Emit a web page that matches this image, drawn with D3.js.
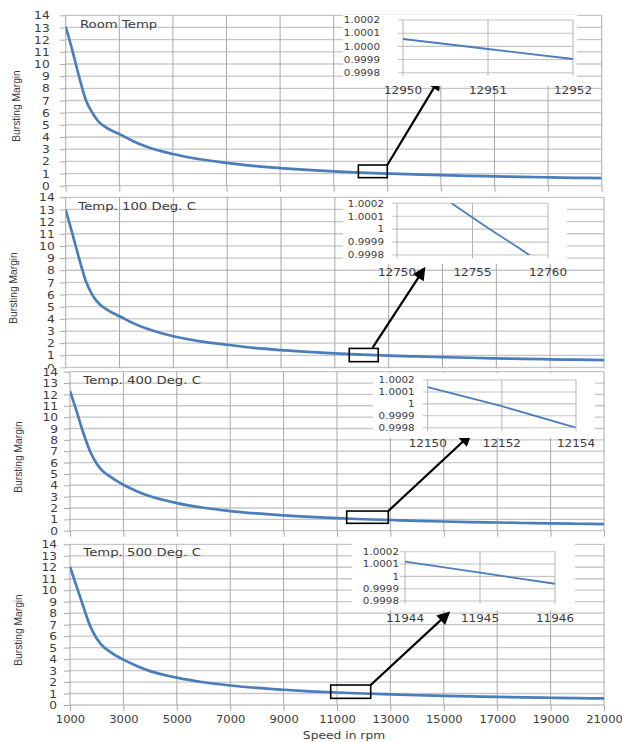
<!DOCTYPE html>
<html>
<head>
<meta charset="utf-8">
<script src="https://cdn.jsdelivr.net/npm/d3@7"></script>
<style>
  body { margin: 0; background: #fff; }
  svg { display: block; font-family: "DejaVu Sans", sans-serif; }
</style>
</head>
<body>
<svg width="622" height="742"></svg>
<script>
// speed in rpm
const speeds = [1000, 1250, 1500, 1750, 2000, 2250, 2500, 2750, 3000, 3500, 4000, 5000, 6000, 7000,
                8000, 9000, 10000, 11000, 12000, 13000, 14000, 15000, 16000, 17000, 18000, 19000, 20000, 21000];

// bursting margin, one list per temperature
const roomTemp = [13.07, 11.1, 8.95, 7.05, 5.97, 5.2, 4.8, 4.5, 4.25, 3.68, 3.22, 2.6, 2.17, 1.88,
                  1.63, 1.45, 1.3, 1.18, 1.08, 1.0, 0.93, 0.87, 0.81, 0.77, 0.72, 0.69, 0.65, 0.62];
const temp100 = [12.97, 11.0, 8.96, 7.09, 5.93, 5.22, 4.8, 4.48, 4.22, 3.65, 3.2, 2.57, 2.15, 1.87,
                 1.61, 1.43, 1.28, 1.16, 1.06, 0.98, 0.91, 0.85, 0.8, 0.75, 0.71, 0.67, 0.64, 0.61];
const temp400 = [12.3, 10.5, 8.6, 7.0, 5.9, 5.2, 4.78, 4.38, 4.05, 3.48, 3.03, 2.43, 2.02, 1.73,
                 1.52, 1.35, 1.22, 1.1, 1.01, 0.94, 0.87, 0.81, 0.76, 0.72, 0.68, 0.64, 0.61, 0.58];
const temp500 = [12.05, 10.3, 8.57, 6.9, 5.8, 5.08, 4.65, 4.25, 3.95, 3.4, 2.95, 2.38, 1.98, 1.7,
                 1.49, 1.33, 1.19, 1.09, 1.0, 0.92, 0.85, 0.8, 0.75, 0.7, 0.66, 0.63, 0.6, 0.57];

const yTicks = [0, 1, 2, 3, 4, 5, 6, 7, 8, 9, 10, 11, 12, 13, 14];
const xTicks = [1000, 3000, 5000, 7000, 9000, 11000, 13000, 15000, 17000, 19000, 21000];

// zoomed-in views around margin = 1
const zoomRoomX = [12950, 12951, 12952];
const zoomRoomY = [1.000056, 0.99998, 0.999904];
const zoom100X = [12752, 12754, 12756, 12758, 12760];
const zoom100Y = [1.00033, 1.00017, 1.00001, 0.99986, 0.9997];
const zoom400X = [12150, 12152, 12154];
const zoom400Y = [1.00014, 0.99998, 0.9998];
const zoom500X = [11944, 11945, 11946];
const zoom500Y = [1.00012, 1.00003, 0.99994];

const zoomYTicks = [0.9998, 0.9999, 1, 1.0001, 1.0002];
const zoomRoomTicks = [12950, 12951, 12952];
const zoom100Ticks = [12750, 12755, 12760];
const zoom400Ticks = [12150, 12152, 12154];
const zoom500Ticks = [11944, 11945, 11946];

const titles = ["Room Temp", "Temp. 100 Deg. C", "Temp. 400 Deg. C", "Temp. 500 Deg. C"];

// layout of the four stacked charts
const panels = [
  { title: titles[0], values: roomTemp, left: 65.7, right: 601.7, top: 15.3, bottom: 185.7, bgTop: 0,
    labelGap: 16, titleX: 80, titleY: 27.5, yLabX: 16, yLabY: 106,
    box: [11920, 13000, 0.66, 1.7], arrow: [13000, 1.7, 14930, 8.74],
    inset: { xs: zoomRoomX, ys: zoomRoomY, ticks: zoomRoomTicks, fmt: d3.format(".4f"),
             x0: 403, x1: 573, y0: 20, y1: 72.7, bg: [343, 15, 234, 71], yGap: 23, xLabY: 94 } },
  { title: titles[1], values: temp100, left: 65.7, right: 604, top: 197.3, bottom: 367.5, bgTop: 193,
    labelGap: 11, titleX: 78.3, titleY: 209.5, yLabX: 13, yLabY: 288,
    box: [11535, 12612, 0.48, 1.57], arrow: [12404, 1.63, 14310, 8.1],
    inset: { xs: zoom100X, ys: zoom100Y, ticks: zoom100Ticks, fmt: d3.format(".4~f"),
             x0: 397, x1: 548, y0: 203.3, y1: 255, bg: [343, 198, 224, 66], yGap: 13, xLabY: 276 } },
  { title: titles[2], values: temp400, left: 70, right: 604, top: 371.7, bottom: 530.7, bgTop: 368.5,
    labelGap: 12, titleX: 83.3, titleY: 384, yLabX: 18.5, yLabY: 457,
    box: [11363, 12921, 0.65, 1.73], arrow: [12921, 1.73, 15980, 8.43],
    inset: { xs: zoom400X, ys: zoom400Y, ticks: zoom400Ticks, fmt: d3.format(".4~f"),
             x0: 427.7, x1: 576, y0: 380, y1: 427.7, bg: [373, 373, 222, 65], yGap: 13, xLabY: 446.7 } },
  { title: titles[3], values: temp500, left: 70, right: 604, top: 544.3, bottom: 705, bgTop: 537,
    labelGap: 13, titleX: 83.3, titleY: 555.7, yLabX: 18.5, yLabY: 630, xLabels: true,
    box: [10764, 12262, 0.58, 1.74], arrow: [12262, 1.74, 15170, 8.0],
    inset: { xs: zoom500X, ys: zoom500Y, ticks: zoom500Ticks, fmt: d3.format(".4~f"),
             x0: 405, x1: 555, y0: 551.7, y1: 601, bg: [352, 542, 223, 68], yGap: 6, xLabY: 621.7 } }
];

const blue = "#4a7ebb";
const textColor = "#3c3c3c";
const svg = d3.select("svg");

svg.append("defs").append("marker")
    .attr("id", "head")
    .attr("viewBox", "0 0 10 10")
    .attr("refX", 8)
    .attr("refY", 5)
    .attr("markerWidth", 15)
    .attr("markerHeight", 13)
    .attr("markerUnits", "userSpaceOnUse")
    .attr("orient", "auto")
  .append("path")
    .attr("d", "M0,0 L10,5 L0,10 z")
    .attr("fill", "#000");

panels.forEach((p, i) => {
  let g = svg.append("g");

  g.append("rect")
    .attr("x", 0).attr("y", p.bgTop)
    .attr("width", 622).attr("height", p.bottom + 8 - p.bgTop)
    .attr("fill", "#fff");

  let x = d3.scaleLinear().domain([1000, 21000]).range([p.left, p.right]);
  let y = d3.scaleLinear().domain([0, 14]).range([p.bottom, p.top]);

  // grid
  g.selectAll(".hgrid")
    .data(yTicks)
    .enter()
    .append("line")
      .attr("x1", p.left).attr("x2", p.right)
      .attr("y1", d => y(d)).attr("y2", d => y(d))
      .attr("stroke", "#c6c6c6")
      .attr("stroke-width", 1.3);

  g.selectAll(".vgrid")
    .data(xTicks)
    .enter()
    .append("line")
      .attr("x1", d => x(d)).attr("x2", d => x(d))
      .attr("y1", p.top).attr("y2", p.bottom)
      .attr("stroke", "#a9a9a9")
      .attr("stroke-width", 1);

  // axes
  let yAxis = g.append("g")
    .attr("transform", "translate(" + p.left + ",0)")
    .call(d3.axisLeft(y).tickValues(yTicks).tickSize(6).tickSizeOuter(0));
  yAxis.select(".domain").remove();
  yAxis.selectAll("line").attr("stroke", "#a9a9a9");
  yAxis.selectAll("text")
    .attr("x", null).attr("dy", null)
    .attr("transform", "translate(" + (-p.labelGap) + ",3.6) scale(1.25,1)")
    .attr("fill", textColor)
    .style("font-size", "9.8px")
    .style("font-family", "DejaVu Sans");

  let xAxis = g.append("g")
    .attr("transform", "translate(0," + p.bottom + ")")
    .call(d3.axisBottom(x).tickValues(xTicks).tickSize(6).tickSizeOuter(0)
            .tickFormat(p.xLabels ? d3.format("d") : ""));
  xAxis.select(".domain").remove();
  xAxis.selectAll("line").attr("stroke", "#a9a9a9");
  xAxis.selectAll("text")
    .attr("y", null).attr("dy", null)
    .attr("transform", "translate(0,18.3) scale(1.2,1)")
    .attr("fill", textColor)
    .style("font-size", "9.6px")
    .style("font-family", "DejaVu Sans");

  // curve
  g.append("clipPath").attr("id", "clip" + i)
    .append("rect")
      .attr("x", p.left).attr("y", p.top - 2)
      .attr("width", p.right - p.left).attr("height", p.bottom - p.top + 2);

  let line = d3.line()
    .x(d => x(d[0]))
    .y(d => y(d[1]))
    .curve(d3.curveMonotoneX);

  g.append("path")
    .datum(speeds.map((s, k) => [s, p.values[k]]))
    .attr("d", line)
    .attr("fill", "none")
    .attr("stroke", blue)
    .attr("stroke-width", 2.7)
    .attr("clip-path", "url(#clip" + i + ")");

  // titles
  g.append("text")
    .attr("transform", "translate(" + p.titleX + "," + p.titleY + ") scale(1.3,1)")
    .attr("fill", textColor)
    .style("font-size", "10.2px")
    .text(p.title);

  g.append("text")
    .attr("transform", "translate(" + p.yLabX + "," + p.yLabY + ") rotate(-90) scale(0.93,1)")
    .attr("text-anchor", "middle")
    .attr("dy", "0.35em")
    .attr("fill", textColor)
    .style("font-family", "Liberation Sans")
    .style("font-size", "11px")
    .text("Bursting Margin");

  // zoom box and arrow
  g.append("rect")
    .attr("x", x(p.box[0])).attr("y", y(p.box[3]))
    .attr("width", x(p.box[1]) - x(p.box[0]))
    .attr("height", y(p.box[2]) - y(p.box[3]))
    .attr("fill", "none")
    .attr("stroke", "#000")
    .attr("stroke-width", 1.6);

  g.append("line")
    .attr("x1", x(p.arrow[0])).attr("y1", y(p.arrow[1]))
    .attr("x2", x(p.arrow[2])).attr("y2", y(p.arrow[3]))
    .attr("stroke", "#000")
    .attr("stroke-width", 2.2)
    .attr("marker-end", "url(#head)");

  // inset
  let ins = p.inset;
  let ig = g.append("g");
  ig.append("rect")
    .attr("x", ins.bg[0]).attr("y", ins.bg[1])
    .attr("width", ins.bg[2]).attr("height", ins.bg[3])
    .attr("fill", "#fff");

  let ix = d3.scaleLinear().domain(d3.extent(ins.ticks)).range([ins.x0, ins.x1]);
  let iy = d3.scaleLinear().domain([0.9998, 1.0002]).range([ins.y1, ins.y0]);

  ig.selectAll(".ihg")
    .data(zoomYTicks)
    .enter()
    .append("line")
      .attr("x1", ins.x0 - 5).attr("x2", ins.x1)
      .attr("y1", d => iy(d)).attr("y2", d => iy(d))
      .attr("stroke", "#c4c4c4")
      .attr("stroke-width", 1.1);

  ig.selectAll(".ivg")
    .data(ins.ticks)
    .enter()
    .append("line")
      .attr("x1", d => ix(d)).attr("x2", d => ix(d))
      .attr("y1", ins.y0).attr("y2", ins.y1 + 3)
      .attr("stroke", "#b4b4b4")
      .attr("stroke-width", 1);

  ig.selectAll(".iyl")
    .data(zoomYTicks)
    .enter()
    .append("text")
      .attr("transform", d => "translate(" + (ins.x0 - ins.yGap) + "," + (iy(d) + 3.3) + ") scale(1.15,1)")
      .attr("text-anchor", "end")
      .attr("fill", textColor)
      .style("font-size", "9px")
      .text(d => ins.fmt(d));

  ig.selectAll(".ixl")
    .data(ins.ticks)
    .enter()
    .append("text")
      .attr("transform", d => "translate(" + ix(d) + "," + ins.xLabY + ") scale(1.2,1)")
      .attr("text-anchor", "middle")
      .attr("fill", textColor)
      .style("font-size", "10px")
      .text(d => d);

  ig.append("clipPath").attr("id", "iclip" + i)
    .append("rect")
      .attr("x", ins.x0).attr("y", ins.y0)
      .attr("width", ins.x1 - ins.x0).attr("height", ins.y1 - ins.y0);

  let iline = d3.line()
    .x(d => ix(d[0]))
    .y(d => iy(d[1]));

  ig.append("path")
    .datum(ins.xs.map((s, k) => [s, ins.ys[k]]))
    .attr("d", iline)
    .attr("fill", "none")
    .attr("stroke", blue)
    .attr("stroke-width", 1.8)
    .attr("clip-path", "url(#iclip" + i + ")");
});

svg.append("text")
  .attr("transform", "translate(344,739) scale(1.28,1)")
  .attr("text-anchor", "middle")
  .attr("fill", textColor)
  .style("font-size", "9.6px")
  .text("Speed in rpm");
</script>
</body>
</html>
